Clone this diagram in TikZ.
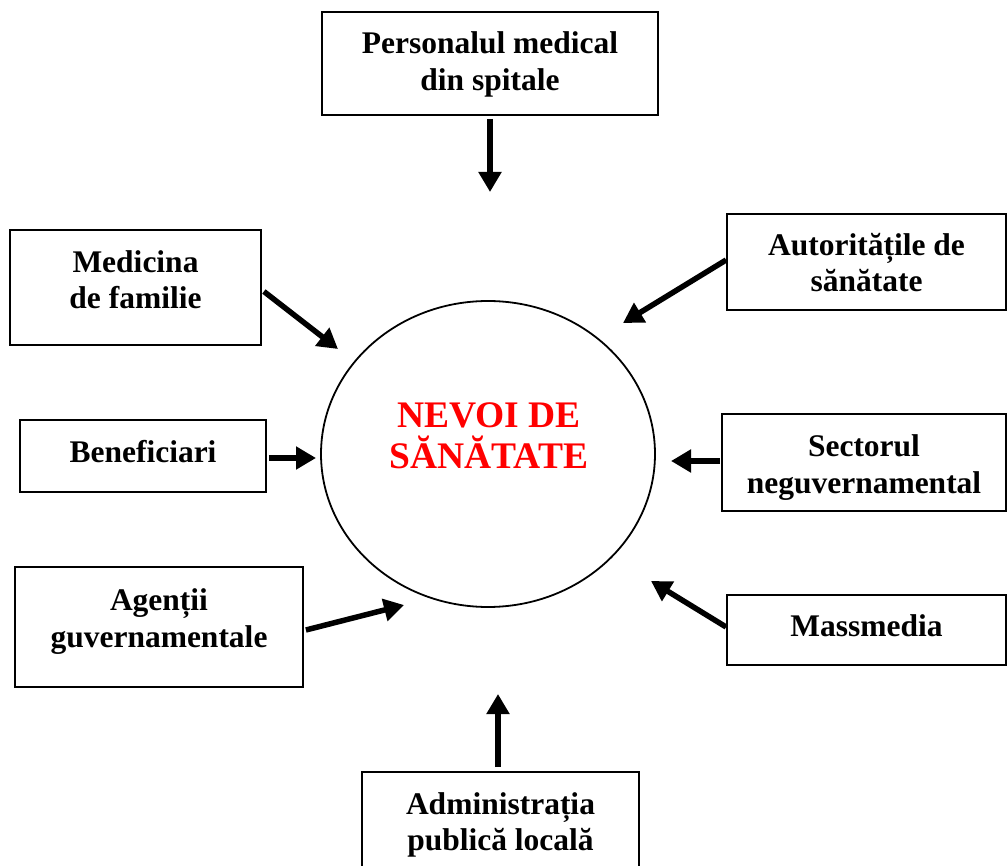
\documentclass[tikz,border=0pt]{standalone}
\usepackage{fontspec}
\setmainfont{Liberation Serif}
\usetikzlibrary{arrows.meta}
\begin{document}
\begin{tikzpicture}[x=1pt,y=-1pt,
  box/.style={draw=black,line width=1.8pt,inner sep=0pt},
  lbl/.style={inner sep=0pt,align=center,font=\fontsize{31.5}{36.5}\selectfont\bfseries},
  flow/.style={line width=5.5pt,-{Triangle[length=20pt,width=22pt]}}]
\useasboundingbox (0,0) rectangle (1007,866);

% central circle and its label
\draw[line width=1.8pt] (488,454) ellipse [x radius=167, y radius=153];
\node[font=\fontsize{37.5}{41}\selectfont\bfseries,text=red,align=center,inner sep=0pt]
  (core) at (489,436) {NEVOI DE\\SĂNĂTATE};

% surrounding actors: frames
\node[box,minimum width=336pt,minimum height=103pt] (pers) at (490,63.5) {};
\node[box,minimum width=251pt,minimum height=115pt] (med) at (135.5,287.5) {};
\node[box,minimum width=246pt,minimum height=72pt] (ben) at (143,456) {};
\node[box,minimum width=288pt,minimum height=120pt] (ag) at (159,627) {};
\node[box,minimum width=279pt,minimum height=96pt] (aut) at (866.5,262) {};
\node[box,minimum width=284pt,minimum height=97pt] (sec) at (864,462.5) {};
\node[box,minimum width=279pt,minimum height=70pt] (mass) at (866.5,630) {};
\node[box,minimum width=277pt,minimum height=110pt] (adm) at (500.5,827) {};

% surrounding actors: names
\node[lbl] (persT) at (490,64.5) {Personalul medical\\din spitale};
\node[lbl] (medT) at (135.5,279.5) {Medicina\\de familie};
\node[lbl] (benT) at (143,452) {Beneficiari};
\node[lbl] (agT) at (159,621.5) {Agenții\\guvernamentale};
\node[lbl] (autT) at (866.5,262.5) {Autoritățile de\\sănătate};
\node[lbl] (secT) at (864,467.5) {Sectorul\\neguvernamental};
\node[lbl] (massT) at (866.5,625.5) {Massmedia};
\node[lbl] (admT) at (500.5,825) {Administrația\\publică locală};

% arrow tips pointing into the circle
\coordinate (tPers) at (490,192);
\coordinate (tMed) at (338,349);
\coordinate (tBen) at (316,458);
\coordinate (tAg) at (404,605);
\coordinate (tAut) at (623,323);
\coordinate (tSec) at (671,461);
\coordinate (tMass) at (651,581);
\coordinate (tAdm) at (498,694);

% connectors
\draw[flow] ([shift={(0,3)}]pers.south) -- (tPers);
\draw[flow] ([shift={(2,4)}]med.east) -- (tMed);
\draw[flow] ([shift={(2,2)}]ben.east) -- (tBen);
\draw[flow] ([shift={(2,3)}]ag.east) -- (tAg);
\draw[flow] ([shift={(0,-2)}]aut.west) -- (tAut);
\draw[flow] ([shift={(-1,-1.5)}]sec.west) -- (tSec);
\draw[flow] ([shift={(0,-3)}]mass.west) -- (tMass);
\draw[flow] ([shift={(-2.5,-4)}]adm.north) -- (tAdm);
\end{tikzpicture}
\end{document}
